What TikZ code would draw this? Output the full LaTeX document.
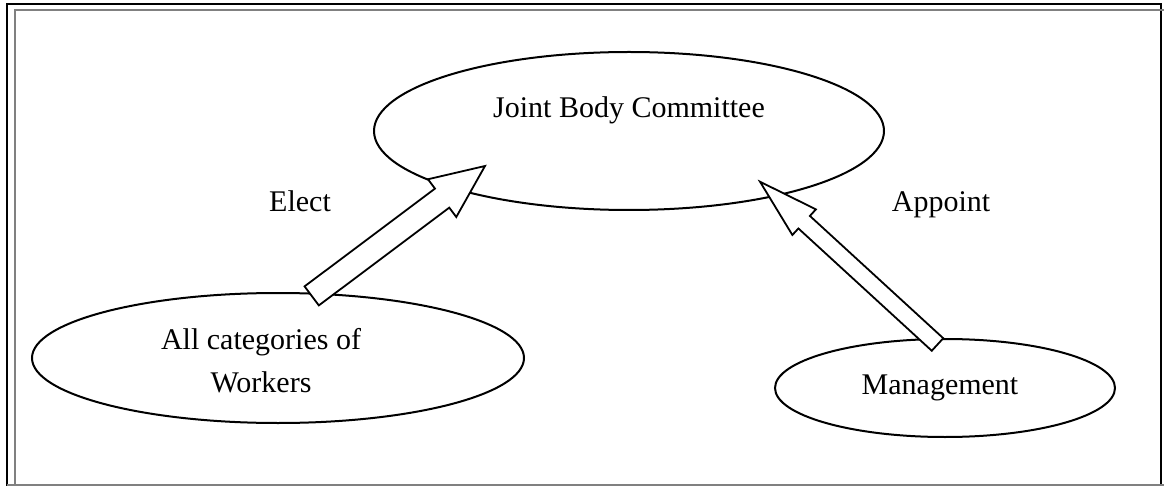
\documentclass[tikz,border=0pt]{standalone}
\usepackage{fontspec}
\setmainfont{Liberation Serif}
\usetikzlibrary{calc,shapes.geometric}
\definecolor{frameGray}{RGB}{128,128,128}

% Block arrow: #1 tail point, #2 tip, #3 shaft half-width, #4 head half-width, #5 head length
\newcommand\blockarrowpath[5]{%
  \coordinate (#1-base) at ($(#2)!#5!(#1)$);
  \draw[blockarrow]
    ($(#1)!#3!90:(#2)$) -- ($(#1-base)!#3!90:(#2)$) -- ($(#1-base)!#4!90:(#2)$)
    -- (#2)
    -- ($(#1-base)!#4!-90:(#2)$) -- ($(#1-base)!#3!-90:(#2)$) -- ($(#1)!#3!-90:(#2)$)
    -- cycle;}

\begin{document}
\begin{tikzpicture}[x=1pt,y=-1pt,
  oval/.style={draw,line width=2pt,ellipse,inner sep=0pt},
  caption/.style={font=\fontsize{30}{43}\selectfont,inner sep=0pt},
  blockarrow/.style={draw,line width=1.8pt,fill=white,line join=miter}]
\useasboundingbox (0,0) rectangle (1164,486);

% page frame
\draw[black,line width=2.3pt] (7,486) -- (7,4.2) -- (1161,4.2) -- (1161,486);
\draw[frameGray,line width=2pt] (15,486) -- (15,9.7) -- (1164,9.7);
\draw[frameGray,line width=2pt] (7,485.3) -- (1164,485.3);

% ovals
\node[oval,minimum width=510pt,minimum height=158pt] (committee) at (629,131) {};
\node[oval,minimum width=492pt,minimum height=130pt] (workers) at (278,358) {};
\node[oval,minimum width=340pt,minimum height=98pt] (management) at (945,388) {};

% texts
\node[caption,anchor=base] (committeeText) at (629,118) {Joint Body Committee};
\node[caption,align=center] (workersText) at (261,360.3) {All categories of\\Workers};
\node[caption,anchor=base] (managementText) at (940,394) {Management};
\node[caption,anchor=base] (electText) at (300,212) {Elect};
\node[caption,anchor=base] (appointText) at (941,212) {Appoint};

% block arrows
\coordinate (electTail) at (311.7,295.9);
\coordinate (electTip) at (485,166);
\coordinate (appointTail) at (937.5,344.5);
\coordinate (appointTip) at (760,181.7);
\blockarrowpath{electTail}{electTip}{11.9pt}{23.6pt}{53.6pt}
\blockarrowpath{appointTail}{appointTip}{8.5pt}{17.4pt}{59.9pt}
\end{tikzpicture}
\end{document}
